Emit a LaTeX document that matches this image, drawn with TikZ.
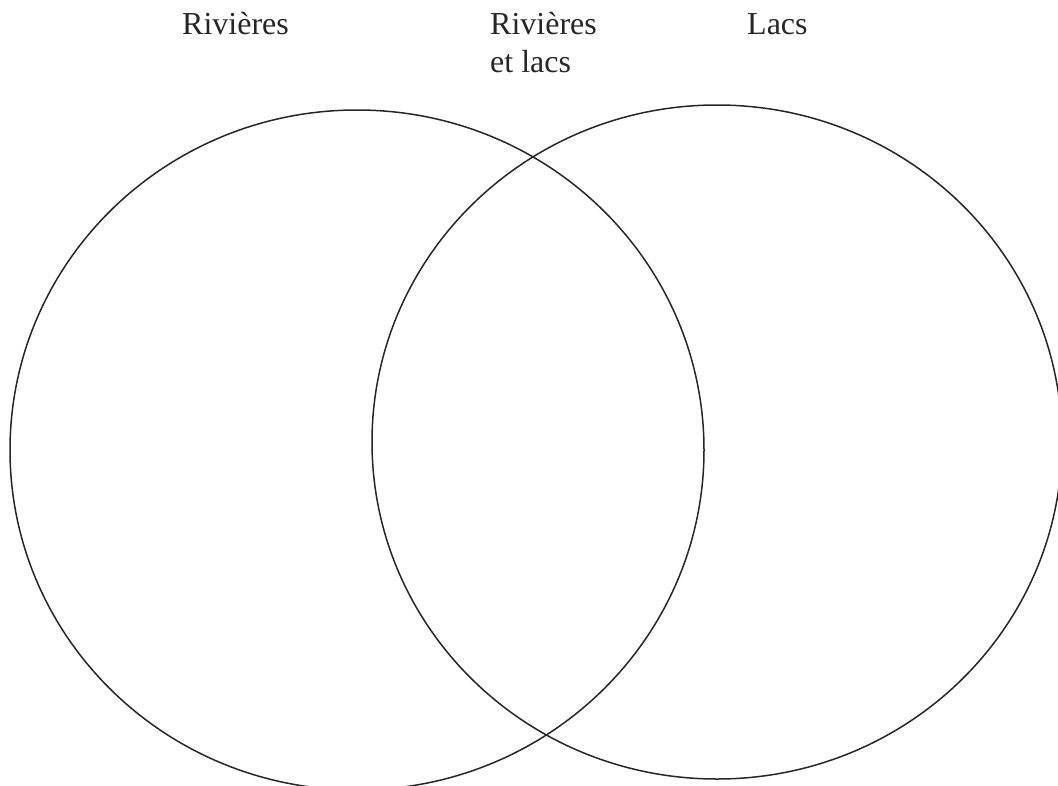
\documentclass[tikz,border=0pt]{standalone}
\usepackage{fontspec}
\setmainfont{Liberation Serif}
\begin{document}
\begin{tikzpicture}[x=1pt,y=-1pt,
  lbl/.style={font=\fontsize{32}{38}\selectfont, inner sep=0pt, anchor=base west, text=black!85},
  ring/.style={draw=black!85, line width=1.5pt}]
\useasboundingbox (0,0) rectangle (1058,785);
\clip (0,0) rectangle (1058,785);
\draw[ring] (357,450) ellipse [x radius=347, y radius=340];
\draw[ring] (717,442) ellipse [x radius=345, y radius=337];
\node[lbl] (riv) at (182,34) {Rivières};
\node[lbl, align=left] (both) at (490,72) {Rivières\\et lacs};
\node[lbl] (lacs) at (747,34) {Lacs};
\end{tikzpicture}
\end{document}
